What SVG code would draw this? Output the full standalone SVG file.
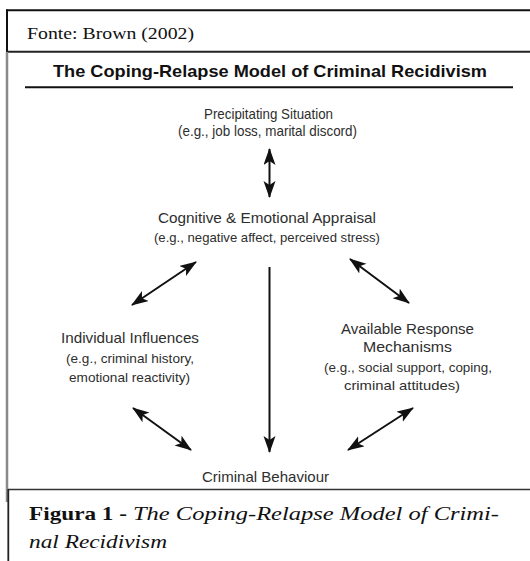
<svg xmlns="http://www.w3.org/2000/svg" width="530" height="561" viewBox="0 0 530 561">
<style>
.serif{font-family:"Liberation Serif","Times New Roman",serif;fill:#111}
.lbl{font-family:"Liberation Sans",Arial,sans-serif;font-size:15px;fill:#2e2e2e}
.sub{font-size:13.5px}
.conn{stroke:#111;stroke-width:2;fill:none}
</style>
<defs>
<marker id="ah" markerUnits="userSpaceOnUse" markerWidth="20" markerHeight="14" refX="16" refY="6" orient="auto-start-reverse">
<path d="M0,0 L17,6 L0,12 L4,6 Z" fill="#111"/>
</marker>
</defs>
<rect width="530" height="561" fill="#fff"/>
<g id="frame">
<line x1="6" y1="10.3" x2="530" y2="10.3" stroke="#111" stroke-width="2"/>
<line x1="7" y1="9.5" x2="7" y2="52.5" stroke="#111" stroke-width="2"/>
<line x1="6" y1="51.7" x2="530" y2="51.7" stroke="#222" stroke-width="2"/>
<line x1="7" y1="52" x2="7" y2="502" stroke="#8a8a8a" stroke-width="2.5"/>
<line x1="8" y1="489.5" x2="530" y2="489.5" stroke="#333" stroke-width="1.6"/>
<line x1="8.3" y1="489" x2="8.3" y2="561" stroke="#222" stroke-width="1.8"/>
</g>
<g id="source">
<text class="serif" x="27" y="38.5" font-size="17" textLength="167" lengthAdjust="spacingAndGlyphs">Fonte: Brown (2002)</text>
</g>
<g id="title">
<text x="53" y="77.3" font-family="Liberation Sans,Arial,sans-serif" font-weight="bold" font-size="17" fill="#111" textLength="434" lengthAdjust="spacingAndGlyphs">The Coping-Relapse Model of Criminal Recidivism</text>
<line x1="25" y1="87.3" x2="513" y2="87.3" stroke="#111" stroke-width="2"/>
</g>
<g id="precipitating">
<text class="lbl" x="204" y="118.5" textLength="129" lengthAdjust="spacingAndGlyphs">Precipitating Situation</text>
<text class="lbl" x="178" y="135.5" font-size="12.5" textLength="179" lengthAdjust="spacingAndGlyphs">(e.g., job loss, marital discord)</text>
</g>
<g id="appraisal">
<text class="lbl" x="158" y="222.7" textLength="218" lengthAdjust="spacingAndGlyphs">Cognitive &amp; Emotional Appraisal</text>
<text class="lbl sub" x="154" y="241.5" textLength="226" lengthAdjust="spacingAndGlyphs">(e.g., negative affect, perceived stress)</text>
</g>
<g id="individual">
<text class="lbl" x="61" y="342.7" textLength="138" lengthAdjust="spacingAndGlyphs">Individual Influences</text>
<text class="lbl sub" x="66" y="363.3" textLength="128" lengthAdjust="spacingAndGlyphs">(e.g., criminal history,</text>
<text class="lbl sub" x="69" y="381.7" textLength="121" lengthAdjust="spacingAndGlyphs">emotional reactivity)</text>
</g>
<g id="response">
<text class="lbl" x="341" y="334" textLength="133" lengthAdjust="spacingAndGlyphs">Available Response</text>
<text class="lbl" x="363" y="351.7" textLength="89" lengthAdjust="spacingAndGlyphs">Mechanisms</text>
<text class="lbl sub" x="324" y="371.7" textLength="168" lengthAdjust="spacingAndGlyphs">(e.g., social support, coping,</text>
<text class="lbl sub" x="344" y="390" textLength="116" lengthAdjust="spacingAndGlyphs">criminal attitudes)</text>
</g>
<g id="behaviour">
<text class="lbl" x="202" y="482.3" font-size="14" textLength="127" lengthAdjust="spacingAndGlyphs">Criminal Behaviour</text>
</g>
<g id="connectors">
<line class="conn" x1="269.5" y1="149" x2="269.5" y2="197" stroke-width="1.6" marker-start="url(#ah)" marker-end="url(#ah)"/>
<line class="conn" x1="132" y1="305" x2="196" y2="262" marker-start="url(#ah)" marker-end="url(#ah)"/>
<line class="conn" x1="350" y1="259" x2="409" y2="303" marker-start="url(#ah)" marker-end="url(#ah)"/>
<line class="conn" x1="133" y1="408" x2="191" y2="450" marker-start="url(#ah)" marker-end="url(#ah)"/>
<line class="conn" x1="348" y1="450" x2="413" y2="408" marker-start="url(#ah)" marker-end="url(#ah)"/>
<line class="conn" x1="269.5" y1="267" x2="269.5" y2="452" marker-end="url(#ah)"/>
</g>
<g id="caption">
<text class="serif" x="29" y="520" font-size="19" font-weight="bold" textLength="98" lengthAdjust="spacingAndGlyphs">Figura 1 -</text>
<text class="serif" x="133" y="520" font-size="19" font-style="italic" textLength="366" lengthAdjust="spacingAndGlyphs">The Coping-Relapse Model of Crimi-</text>
<text class="serif" x="29" y="548" font-size="19" font-style="italic" textLength="138" lengthAdjust="spacingAndGlyphs">nal Recidivism</text>
</g>
</svg>
